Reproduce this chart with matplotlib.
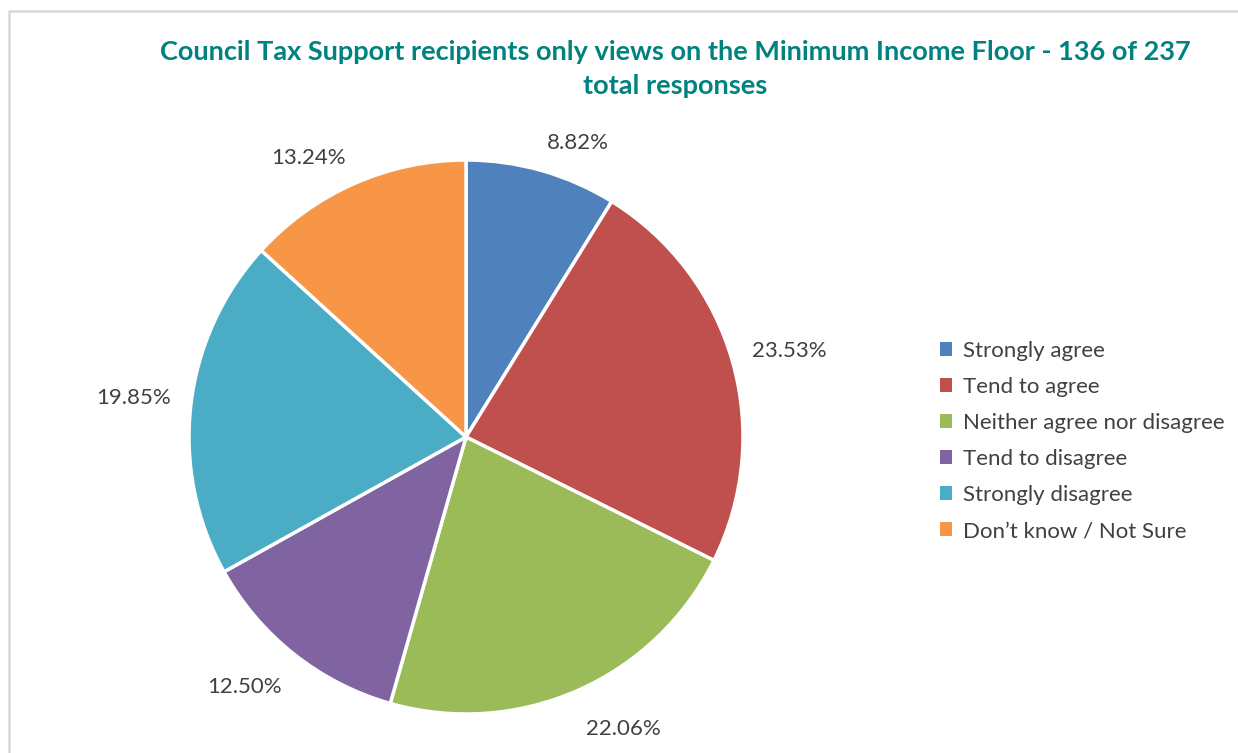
import numpy as np
import matplotlib.pyplot as plt
from matplotlib.patches import Patch
from matplotlib.lines import Line2D

# data
categories = ['Strongly agree', 'Tend to agree', 'Neither agree nor disagree',
              'Tend to disagree', 'Strongly disagree', 'Don\u2019t know / Not Sure']
shares = [8.82, 23.53, 22.06, 12.50, 19.85, 13.24]
colors = ['#4F81BD', '#C0504D', '#9BBB59', '#8064A2', '#4BACC6', '#F79646']
title = 'Council Tax Support recipients only views on the Minimum Income Floor - 136 of 237\ntotal responses'

plt.rcParams['font.family'] = ['Lato', 'DejaVu Sans']
W, H = 1238, 753
fig = plt.figure(figsize=(W / 100, H / 100), dpi=100)
fig.set_facecolor('white')

# chart border (top and left only visible)
fig.lines.append(Line2D([9 / W, 9 / W, 1.01], [-0.01, 1 - 11 / H, 1 - 11 / H], transform=fig.transFigure,
                        color='#D9D9D9', lw=1.8))

cx, cy, r = 466, 437, 277
ax = fig.add_axes([(cx - r) / W, (H - cy - r) / H, 2 * r / W, 2 * r / H])
wedges, texts = ax.pie(shares, colors=colors, startangle=90, counterclock=False,
                       wedgeprops=dict(edgecolor='white', linewidth=2.5))
ax.set_xlim(-1, 1)
ax.set_ylim(-1, 1)
ax.axis('off')

# outside-end data labels
gap = 20 / r
for w, s in zip(wedges, shares):
    ang = np.deg2rad((w.theta1 + w.theta2) / 2)
    c, sn = np.cos(ang), np.sin(ang)
    dy = 4 + 4 * sn if sn > 0 else 22 * sn
    ax.annotate('%.2f%%' % s, xy=((1 + gap) * c, (1 + gap) * sn),
                xytext=(0, dy), textcoords='offset pixels',
                ha='left' if c > 0 else 'right', va='center',
                fontsize=16, color='#404040', annotation_clip=False)

fig.text(675 / W, 1 - 69 / H, title, ha='center', va='center', fontsize=19.5,
         fontweight='bold', color='#00827F', linespacing=1.55)

handles = [Patch(facecolor=c, edgecolor='none') for c in colors]
fig.legend(handles, categories, loc='center left', bbox_to_anchor=(920 / W, 1 - 441 / H),
           frameon=False, fontsize=16, labelcolor='#404040', handlelength=0.55,
           handleheight=0.55, handletextpad=0.5, labelspacing=0.72)

fig.savefig('out.png', dpi=100)
